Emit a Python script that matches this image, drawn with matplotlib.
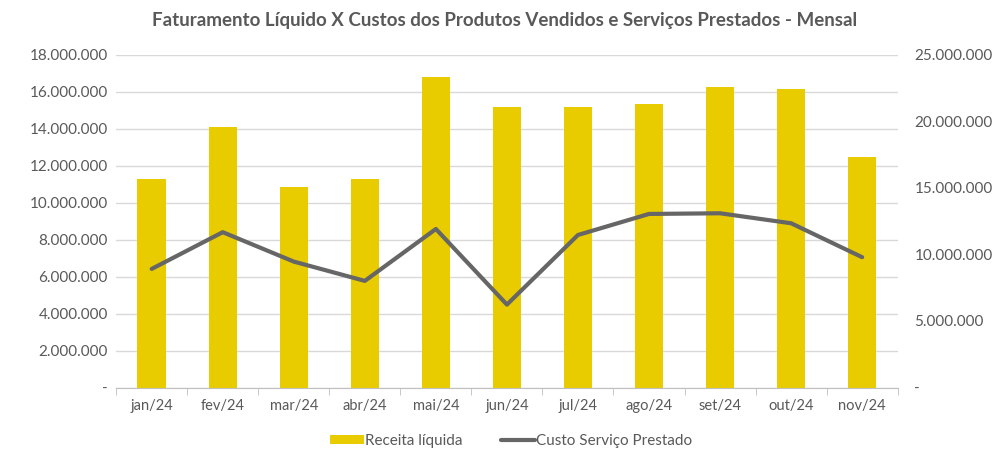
import matplotlib.pyplot as plt
import matplotlib.ticker as mticker
import numpy as np

plt.rcParams['font.family'] = ['Lato', 'DejaVu Sans']

# ===== dados =====
meses = ["jan/24", "fev/24", "mar/24", "abr/24", "mai/24", "jun/24",
         "jul/24", "ago/24", "set/24", "out/24", "nov/24"]
receita_liquida = [11260000, 14090000, 10830000, 11280000, 16810000, 15150000,
                   15150000, 15350000, 16270000, 16130000, 12490000]
custo_servico = [8910000, 11670000, 9460000, 8010000, 11910000, 6230000,
                 11460000, 13040000, 13090000, 12340000, 9790000]

amarelo = '#E8CC00'
cinza_linha = '#666666'
cinza_texto = '#595959'


def fmt_br(v, pos):
    if v == 0:
        return "-"
    return f"{v:,.0f}".replace(",", ".")


fig = plt.figure(figsize=(9.93, 4.68), dpi=100)
ax = fig.add_axes([0.117, 0.172, 0.787, 0.711])
ax2 = ax.twinx()

x = np.arange(len(meses))
ax.bar(x, receita_liquida, width=0.4, color=amarelo, zorder=2, label='Receita líquida')
ax2.plot(x, custo_servico, color=cinza_linha, linewidth=3, solid_capstyle='round',
         zorder=3, label='Custo Serviço Prestado')

ax.set_xlim(-0.5, len(meses) - 0.5)
ax.set_ylim(0, 18000000)
ax.set_yticks(np.arange(0, 18000001, 2000000))
ax2.set_ylim(0, 25000000)
ax2.set_yticks(np.arange(0, 25000001, 5000000))
ax.yaxis.set_major_formatter(mticker.FuncFormatter(fmt_br))
ax2.yaxis.set_major_formatter(mticker.FuncFormatter(fmt_br))

ax.grid(True, axis='y', color='#D9D9D9', linewidth=1, zorder=0)
ax.set_axisbelow(True)

for a in (ax, ax2):
    for s in ['top', 'right', 'left', 'bottom']:
        a.spines[s].set_visible(False)
ax.spines['bottom'].set_visible(True)
ax.spines['bottom'].set_color('#BFBFBF')

ax.set_xticks(x)
ax.set_xticklabels(meses)
ax.set_xticks(np.arange(-0.5, len(meses), 1), minor=True)
ax.tick_params(axis='x', which='major', length=0, pad=8, labelsize=10.5, labelcolor=cinza_texto)
ax.tick_params(axis='x', which='minor', length=5, color='#BFBFBF')
ax.tick_params(axis='y', length=0, pad=6, labelsize=11, labelcolor=cinza_texto)
ax2.tick_params(axis='y', length=0, pad=12, labelsize=11, labelcolor=cinza_texto)

fig.text(0.508, 0.957, "Faturamento Líquido X Custos dos Produtos Vendidos e Serviços Prestados - Mensal",
         ha='center', va='center', fontsize=13.5, fontweight='bold', color=cinza_texto)

h1, l1 = ax.get_legend_handles_labels()
h2, l2 = ax2.get_legend_handles_labels()
fig.legend(h1 + h2, l1 + l2, loc='center', bbox_to_anchor=(0.515, 0.058), ncol=2,
           frameon=False, fontsize=11, labelcolor=cinza_texto, handlelength=2.2,
           handleheight=0.6, columnspacing=2.5, handletextpad=0.1)

plt.savefig("out.png", dpi=100)
